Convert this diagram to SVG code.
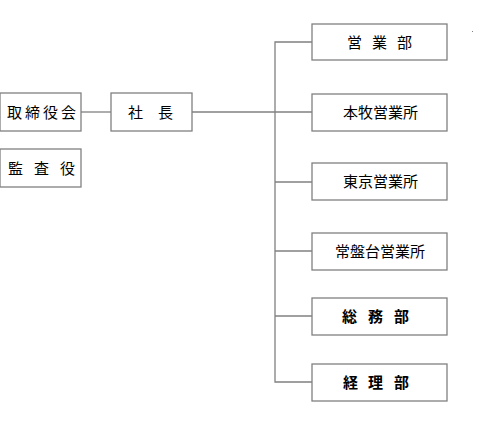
<svg xmlns="http://www.w3.org/2000/svg" width="489" height="430" viewBox="0 0 489 430">
<style>
.box{fill:#fff;stroke:#808080;stroke-width:1.3}
.ln{stroke:#808080;stroke-width:1.3;fill:none}
text{font-family:"Noto Sans CJK JP","Noto Sans CJK SC",sans-serif;font-size:15px;fill:#000}
.b{font-weight:bold}
</style>
<rect width="489" height="430" fill="#fff"/>
<g id="connectors">
<line class="ln" x1="81" y1="112" x2="111" y2="112"/>
<line class="ln" x1="192" y1="112" x2="312" y2="112"/>
<polyline class="ln" points="312,42 275,42 275,382 312,382"/>
<line class="ln" x1="275" y1="182" x2="312" y2="182"/>
<line class="ln" x1="275" y1="251" x2="312" y2="251"/>
<line class="ln" x1="275" y1="316" x2="312" y2="316"/>
</g>
<g id="torishimariyakukai"><rect class="box" x="0" y="93" width="81" height="38"/><text x="7 25 43 61" y="117.5">取締役会</text></g>
<g id="kansayaku"><rect class="box" x="0" y="149" width="81" height="38"/><text x="8 34 60" y="173.5">監査役</text></g>
<g id="shacho"><rect class="box" x="111" y="93" width="81" height="38"/><text x="128 158" y="117.5">社長</text></g>
<g id="eigyobu"><rect class="box" x="312" y="24" width="135" height="36"/><text x="347 372 397" y="47.5">営業部</text></g>
<g id="honmoku"><rect class="box" x="312" y="94" width="135" height="37"/><text x="343 358 373 388 403" y="118">本牧営業所</text></g>
<g id="tokyo"><rect class="box" x="312" y="163" width="135" height="37"/><text x="343 358 373 388 403" y="187">東京営業所</text></g>
<g id="tokiwadai"><rect class="box" x="312" y="233" width="135" height="37"/><text x="335 350 365 380 395 410" y="257">常盤台営業所</text></g>
<g id="somubu"><rect class="box" x="312" y="298" width="135" height="37"/><text class="b" x="342 368 394" y="322">総務部</text></g>
<g id="keiribu"><rect class="box" x="312" y="364" width="135" height="37"/><text class="b" x="343 368 394" y="388">経理部</text></g>
<rect x="472" y="31" width="1" height="1" fill="#808080"/>
</svg>
